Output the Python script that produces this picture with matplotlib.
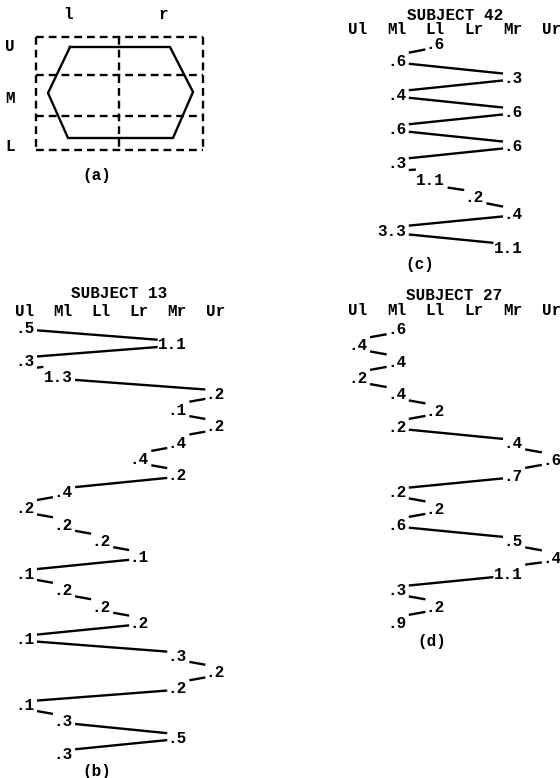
import matplotlib
matplotlib.use("Agg")
import matplotlib.pyplot as plt

# ---------------- data ----------------
columns = ["Ul", "Ml", "Ll", "Lr", "Mr", "Ur"]

s13_regions = ["Ul", "Mr", "Ul", "Ml", "Ur", "Mr", "Ur", "Mr", "Lr", "Mr",
               "Ml", "Ul", "Ml", "Ll", "Lr", "Ul", "Ml", "Ll", "Lr", "Ul",
               "Mr", "Ur", "Mr", "Ul", "Ml", "Mr", "Ml"]
s13_durations = [0.5, 1.1, 0.3, 1.3, 0.2, 0.1, 0.2, 0.4, 0.4, 0.2,
                 0.4, 0.2, 0.2, 0.2, 0.1, 0.1, 0.2, 0.2, 0.2, 0.1,
                 0.3, 0.2, 0.2, 0.1, 0.3, 0.5, 0.3]

s42_regions = ["Ll", "Ml", "Mr", "Ml", "Mr", "Ml", "Mr", "Ml", "Ll", "Lr",
               "Mr", "Ml", "Mr"]
s42_durations = [0.6, 0.6, 0.3, 0.4, 0.6, 0.6, 0.6, 0.3, 1.1, 0.2,
                 0.4, 3.3, 1.1]

s27_regions = ["Ml", "Ul", "Ml", "Ul", "Ml", "Ll", "Ml", "Mr", "Ur", "Mr",
               "Ml", "Ll", "Ml", "Mr", "Ur", "Mr", "Ml", "Ll", "Ml"]
s27_durations = [0.6, 0.4, 0.4, 0.2, 0.4, 0.2, 0.2, 0.4, 0.6, 0.7,
                 0.2, 0.2, 0.6, 0.5, 0.4, 1.1, 0.3, 0.2, 0.9]

# panel (a): face outline and region grid
hexagon_x = [70, 170, 193, 173, 68, 48, 70]
hexagon_y = [47, 47, 92, 138, 138, 93, 47]
region_rows = ["U", "M", "L"]
region_cols = ["l", "r"]
grid_x = [36, 119, 203]
grid_y = [37, 75, 116, 150]

# ---------------- style ----------------
W, H = 560, 778
fig = plt.figure(figsize=(W / 100, H / 100), dpi=100)
FS = 11.5
FONT = dict(family=["Liberation Mono", "DejaVu Sans Mono"], weight="bold", size=FS)
CHAR_PX = 0.6 * FS * 100 / 72
LW = 1.7


def px_axes(L, T, R, B, x0, dx, y0, dy):
    ax = fig.add_axes([L / W, 1 - B / H, (R - L) / W, (B - T) / H])
    ax.set_xlim((L - x0) / dx, (R - x0) / dx)
    ax.set_ylim((B - y0) / dy, (T - y0) / dy)
    ax.axis("off")
    return ax


def ftext(x, y, s, ha="center"):
    fig.text(x / W, 1 - y / H, s, ha=ha, va="center_baseline", **FONT)


def fmt(v):
    s = f"{v:.1f}"
    return s[1:] if s.startswith("0") else s


def draw_scanpath(ax, regions, durations, dx, dy, header_row):
    xs = [columns.index(r) for r in regions]
    labels = [fmt(d) for d in durations]
    for c, name in enumerate(columns):
        ax.text(c, header_row, name, ha="right", va="center_baseline", **FONT)
    for i, (x, lab) in enumerate(zip(xs, labels)):
        ax.text(x, i, lab, ha="right", va="center_baseline", **FONT)
    cw = CHAR_PX / dx
    gap_r = 2.5 / dx
    gap_l = 0.5 / dx
    pull = 2.0 / dy
    for i in range(len(xs) - 1):
        a, b = xs[i], xs[i + 1]
        wa = len(labels[i]) * cw
        wb = len(labels[i + 1]) * cw
        ca, cb = a - wa / 2, b - wb / 2
        if cb > ca:
            x_s, x_e = a + gap_r, b - wb - gap_l
        else:
            x_s, x_e = a - wa - gap_l, b + gap_r
        slope = 1.0 / (cb - ca)
        y_s = i + (x_s - ca) * slope + pull
        y_e = i + (x_e - ca) * slope - pull
        ax.plot([x_s, x_e], [y_s, y_e], color="black", lw=LW,
                solid_capstyle="butt")


# ---------------- panel (a) ----------------
ax_a = px_axes(0, 0, 220, 200, 0, 1, 0, 1)
dash = (0, (3.3, 2.1))
for yy in grid_y:
    ax_a.plot([grid_x[0], grid_x[-1]], [yy, yy], color="black", lw=LW, linestyle=dash)
for xx in grid_x:
    ax_a.plot([xx, xx], [grid_y[0], grid_y[-1]], color="black", lw=LW, linestyle=dash)
ax_a.plot(hexagon_x, hexagon_y, color="black", lw=LW, solid_joinstyle="miter")
for i, name in enumerate(region_cols):
    ax_a.text([68, 163][i], 13, name, ha="center", va="center_baseline", **FONT)
for i, name in enumerate(region_rows):
    ax_a.text(10, [45, 97, 145][i], name, ha="center", va="center_baseline", **FONT)
ax_a.text(97, 174, "(a)", ha="center", va="center_baseline", **FONT)

# ---------------- panel (b) subject 13 ----------------
bx0, bdx, by0, bdy = 34.5, 38.1, 327, 16.385
ax_b = px_axes(0, 280, 280, 778, bx0, bdx, by0, bdy)
draw_scanpath(ax_b, s13_regions, s13_durations, bdx, bdy, (310 - by0) / bdy)
ftext(119, 292, "SUBJECT 13")
ftext(97, 770, "(b)")

# ---------------- panel (c) subject 42 ----------------
cx0, cdx, cy0, cdy = 367.5, 38.8, 43, 17.0
ax_c = px_axes(330, 0, 560, 280, cx0, cdx, cy0, cdy)
draw_scanpath(ax_c, s42_regions, s42_durations, cdx, cdy, (28 - cy0) / cdy)
ftext(455, 14, "SUBJECT 42")
ftext(420, 263, "(c)")

# ---------------- panel (d) subject 27 ----------------
dx0, ddx, dy0, ddy = 367.5, 38.8, 328, 16.33
ax_d = px_axes(330, 280, 560, 680, dx0, ddx, dy0, ddy)
draw_scanpath(ax_d, s27_regions, s27_durations, ddx, ddy, (309 - dy0) / ddy)
ftext(454, 294, "SUBJECT 27")
ftext(432, 640, "(d)")

fig.savefig("out.png", dpi=100)
